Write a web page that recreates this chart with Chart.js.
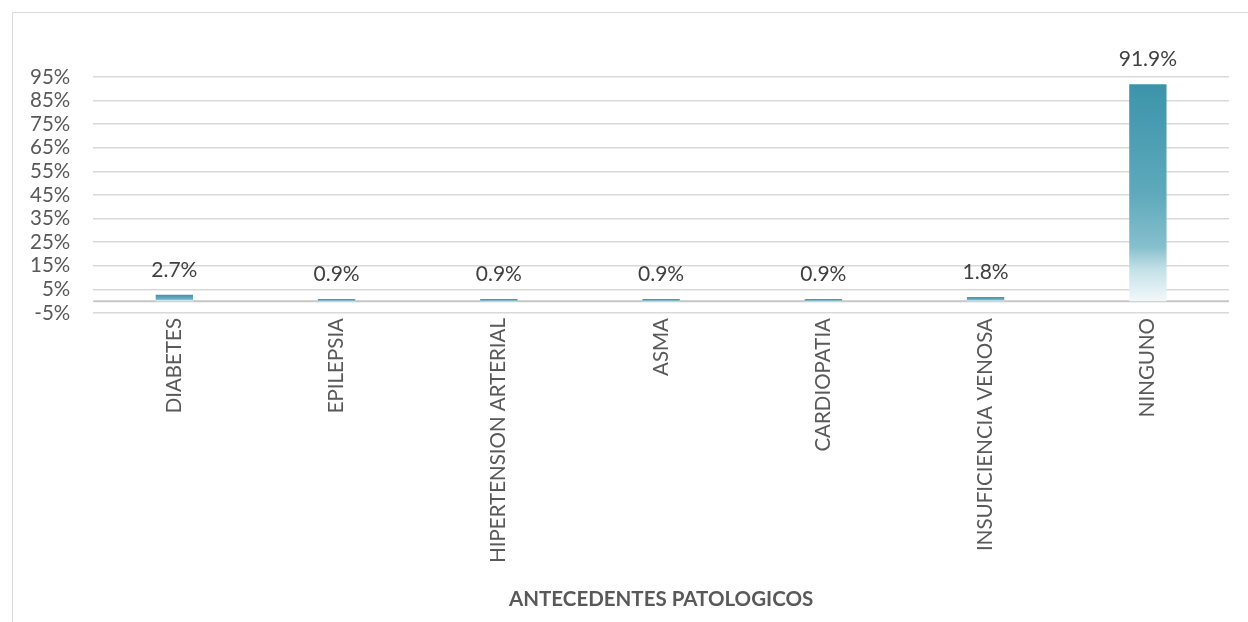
<!DOCTYPE html>
<html>
<head>
<meta charset="utf-8">
<script src="https://cdn.jsdelivr.net/npm/chart.js@4"></script>
<style>
  html, body { margin: 0; padding: 0; background: #fff; overflow: hidden; }
  #wrap { position: relative; width: 1248px; height: 622px; }
  #frame { position: absolute; left: 12px; top: 12px; width: 1300px; height: 700px; border: 1px solid #d9d9d9; }
  canvas { position: absolute; left: 0; top: 0; }
</style>
</head>
<body>
<div id="wrap">
  <div id="frame"></div>
  <canvas id="chart" width="1248" height="622"></canvas>
</div>
<script>
const categories = ['DIABETES', 'EPILEPSIA', 'HIPERTENSION ARTERIAL', 'ASMA', 'CARDIOPATIA', 'INSUFICIENCIA VENOSA', 'NINGUNO']
const percentages = [2.7, 0.9, 0.9, 0.9, 0.9, 1.8, 91.9]
const axisTitle = 'ANTECEDENTES PATOLOGICOS'
const yMin = -5
const yMax = 95
const yStep = 10

const FONT = 'Lato, "Open Sans", sans-serif'

function barGradient(context) {
    const chart = context.chart
    const area = chart.chartArea
    if (!area) return '#4a9db1'
    const y = chart.scales.y
    const top = y.getPixelForValue(context.raw)
    const bottom = y.getPixelForValue(0)
    if (bottom - top < 1) return '#4a9db1'
    const g = chart.ctx.createLinearGradient(0, top, 0, bottom)
    g.addColorStop(0, '#3c94aa')
    g.addColorStop(0.5, '#5ea9bb')
    g.addColorStop(0.75, '#86bfcd')
    g.addColorStop(0.85, '#c2e0e7')
    g.addColorStop(1, '#f2f8fa')
    return g
}

// zero line and value labels
const extras = {
    id: 'extras',
    beforeDatasetsDraw(chart) {
        const c = chart.ctx
        const y0 = chart.scales.y.getPixelForValue(0)
        c.save()
        c.strokeStyle = '#c6c6c6'
        c.lineWidth = 2
        c.beginPath()
        c.moveTo(chart.chartArea.left, y0)
        c.lineTo(chart.chartArea.right, y0)
        c.stroke()
        c.restore()
    },
    afterDatasetsDraw(chart) {
        const c = chart.ctx
        const meta = chart.getDatasetMeta(0)
        c.save()
        c.font = '21px ' + FONT
        c.fillStyle = '#404040'
        c.textAlign = 'center'
        c.textBaseline = 'middle'
        meta.data.forEach((bar, i) => {
            c.fillText(percentages[i].toFixed(1) + '%', bar.x, bar.y - 25)
        })
        c.restore()
    }
}

const ctx = document.getElementById('chart')
const myChart = new Chart(ctx, {
    type: 'bar',
    data: {
        labels: categories,
        datasets: [{
            data: percentages,
            backgroundColor: barGradient,
            borderWidth: 0,
            barPercentage: 0.23,
            categoryPercentage: 1
        }]
    },
    options: {
        responsive: false,
        animation: false,
        layout: { padding: { left: 7, right: 19, top: 77, bottom: 10 } },
        plugins: {
            legend: { display: false },
            tooltip: { enabled: false }
        },
        scales: {
            x: {
                grid: { display: false },
                border: { display: false },
                afterFit(scale) { scale.height = 299 },
                ticks: {
                    minRotation: 90,
                    maxRotation: 90,
                    autoSkip: false,
                    padding: -3,
                    color: '#595959',
                    font: { family: FONT, size: 20.5 }
                },
                title: {
                    display: true,
                    text: axisTitle,
                    color: '#595959',
                    padding: { top: 10, bottom: 0 },
                    font: { family: FONT, size: 20.5, weight: 'bold' }
                }
            },
            y: {
                min: yMin,
                max: yMax,
                border: { display: false },
                grid: { color: '#d9d9d9', lineWidth: 1.5, drawTicks: false },
                ticks: {
                    stepSize: yStep,
                    autoSkip: false,
                    padding: 23,
                    color: '#595959',
                    font: { family: FONT, size: 20.5 },
                    callback: v => v + '%'
                }
            }
        }
    },
    plugins: [extras]
})
</script>
</body>
</html>
